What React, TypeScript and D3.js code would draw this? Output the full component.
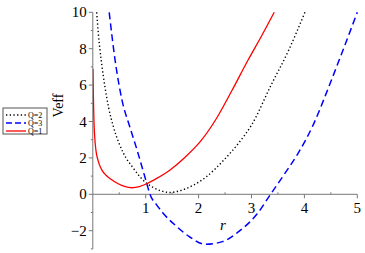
import React from "react";
import * as d3 from "d3";

const redR = [0.003, 0.01, 0.02, 0.035, 0.06, 0.1, 0.17, 0.25, 0.33, 0.48, 0.6, 0.74, 0.88, 1.02, 1.2, 1.46, 1.75, 2.03, 2.34, 2.63, 2.93, 3.2, 3.43];
const redV = [6.9, 5.5, 4.2, 3.2, 2.4, 1.85, 1.34, 1.05, 0.85, 0.58, 0.43, 0.36, 0.42, 0.58, 0.86, 1.34, 2.05, 2.89, 4.18, 5.7, 7.35, 8.75, 10];

const blackR = [0.074, 0.104, 0.136, 0.18, 0.23, 0.3, 0.39, 0.58, 0.75, 0.89, 1.02, 1.14, 1.3, 1.46, 1.65, 1.9, 2.15, 2.45, 2.78, 3.0, 3.37, 3.7, 4.01];
const blackV = [10, 8.85, 7.93, 6.9, 5.9, 4.75, 3.71, 2.25, 1.5, 0.97, 0.6, 0.38, 0.18, 0.1, 0.2, 0.5, 0.97, 1.8, 2.9, 3.8, 6.0, 7.9, 10];

const blueR = [0.31, 0.42, 0.55, 0.7, 0.83, 0.95, 1.02, 1.08, 1.2, 1.33, 1.59, 1.84, 2.13, 2.45, 2.78, 3.1, 3.36, 3.62, 3.88, 4.18, 4.42, 4.7, 5.0];
const blueV = [10, 7.4, 5.2, 3.7, 2.5, 1.3, 0.6, 0.0, -0.55, -1.04, -1.78, -2.36, -2.75, -2.6, -2.0, -1.1, 0.0, 1.1, 2.25, 3.9, 5.6, 7.7, 10];

const yTicks = [-2, 0, 2, 4, 6, 8, 10];
const yMinor = [-3, -1, 1, 3, 5, 7, 9];
const xTicks = [1, 2, 3, 4, 5];
const xMinor = [0.5, 1.5, 2.5, 3.5, 4.5];

const legendLabels = ["Q=2", "Q=3", "Q=1"];

export default function App() {
  const x = d3.scaleLinear().domain([0, 5]).range([92.8, 357.3]);
  const y = d3.scaleLinear().domain([-3, 10]).range([248.9, 12.3]);
  const line = d3
    .line<[number, number]>()
    .x((d) => x(d[0]))
    .y((d) => y(d[1]))
    .curve(d3.curveMonotoneX);
  const zip = (a: number[], b: number[]) => a.map((v, i) => [v, b[i]] as [number, number]);

  const series = [
    { name: legendLabels[0], data: zip(blackR, blackV), color: "#000", dash: "1.3,2.4", ldash: "1.3,2.4", w: 1.4 },
    { name: legendLabels[1], data: zip(blueR, blueV), color: "#0000ff", dash: "7,4", ldash: "6,3", w: 1.5 },
    { name: legendLabels[2], data: zip(redR, redV), color: "#ff0000", dash: undefined, ldash: undefined, w: 1.3 },
  ];
  const axisColor = "#777";
  return (
    <svg width={365} height={253} style={{ position: "fixed", left: 0, top: 0, background: "#fff", fontFamily: "Liberation Serif" }}>
      <defs>
        <clipPath id="plotClip">
          <rect x={x(0)} y={y(10) - 1} width={x(5) - x(0) + 2} height={y(-3) - y(10) + 2} />
        </clipPath>
      </defs>
      <line x1={x(0)} x2={x(5)} y1={y(0)} y2={y(0)} stroke={axisColor} strokeWidth={1} />
      {xTicks.map((t) => (
        <line key={"xtl" + t} x1={x(t)} x2={x(t)} y1={y(0)} y2={y(0) + 4} stroke={axisColor} />
      ))}
      {xTicks.map((t) => (
        <text key={"xt" + t} x={x(t)} y={y(0) + 19} fontFamily="Liberation Serif" fontSize={15} textAnchor="middle" fill="#000">
          {String(t)}
        </text>
      ))}
      {xMinor.map((t) => (
        <line key={"xm" + t} x1={x(t)} x2={x(t)} y1={y(0) - 2} y2={y(0)} stroke={axisColor} />
      ))}
      <line x1={x(0)} x2={x(0)} y1={y(10)} y2={y(-3)} stroke={axisColor} strokeWidth={1} />
      {yTicks.map((t) => (
        <line key={"ytl" + t} x1={x(0) - 4} x2={x(0)} y1={y(t)} y2={y(t)} stroke={axisColor} />
      ))}
      {yTicks.map((t) => (
        <text key={"yt" + t} x={x(0) - 6} y={y(t) + 5} fontFamily="Liberation Serif" fontSize={15} textAnchor="end" fill="#000">
          {t < 0 ? "\u2212" + Math.abs(t) : String(t)}
        </text>
      ))}
      {yMinor.map((t) => (
        <line key={"ym" + t} x1={x(0) - 2} x2={x(0)} y1={y(t)} y2={y(t)} stroke={axisColor} />
      ))}
      <g clipPath="url(#plotClip)">
        {series.map((s) => (
          <path
            key={s.name}
            d={line(s.data) || ""}
            fill="none"
            stroke={s.color}
            strokeWidth={s.w}
            strokeDasharray={s.dash}
          />
        ))}
      </g>
      <text x={223} y={230} fontFamily="Liberation Serif" fontSize={15} fontStyle="italic" textAnchor="middle" fill="#000">
        r
      </text>
      <text
        transform="translate(63,105.5) rotate(-90)"
        fontFamily="Liberation Serif"
        fontSize={14}
        textAnchor="middle"
        fill="#000"
      >
        Veff
      </text>
      <rect x={3} y={108} width={44} height={26} fill="#fff" stroke="#555" strokeWidth={1} />
      {series.map((s, i) => (
        <line
          key={"ll" + s.name}
          x1={6}
          x2={26}
          y1={115 + i * 8}
          y2={115 + i * 8}
          stroke={s.color}
          strokeWidth={s.w}
          strokeDasharray={s.ldash}
        />
      ))}
      {series.map((s, i) => (
        <text key={"lt" + s.name} x={28} y={118 + i * 8} fontFamily="Liberation Serif" fontSize={8} fill="#000">
          {s.name}
        </text>
      ))}
    </svg>
  );
}
